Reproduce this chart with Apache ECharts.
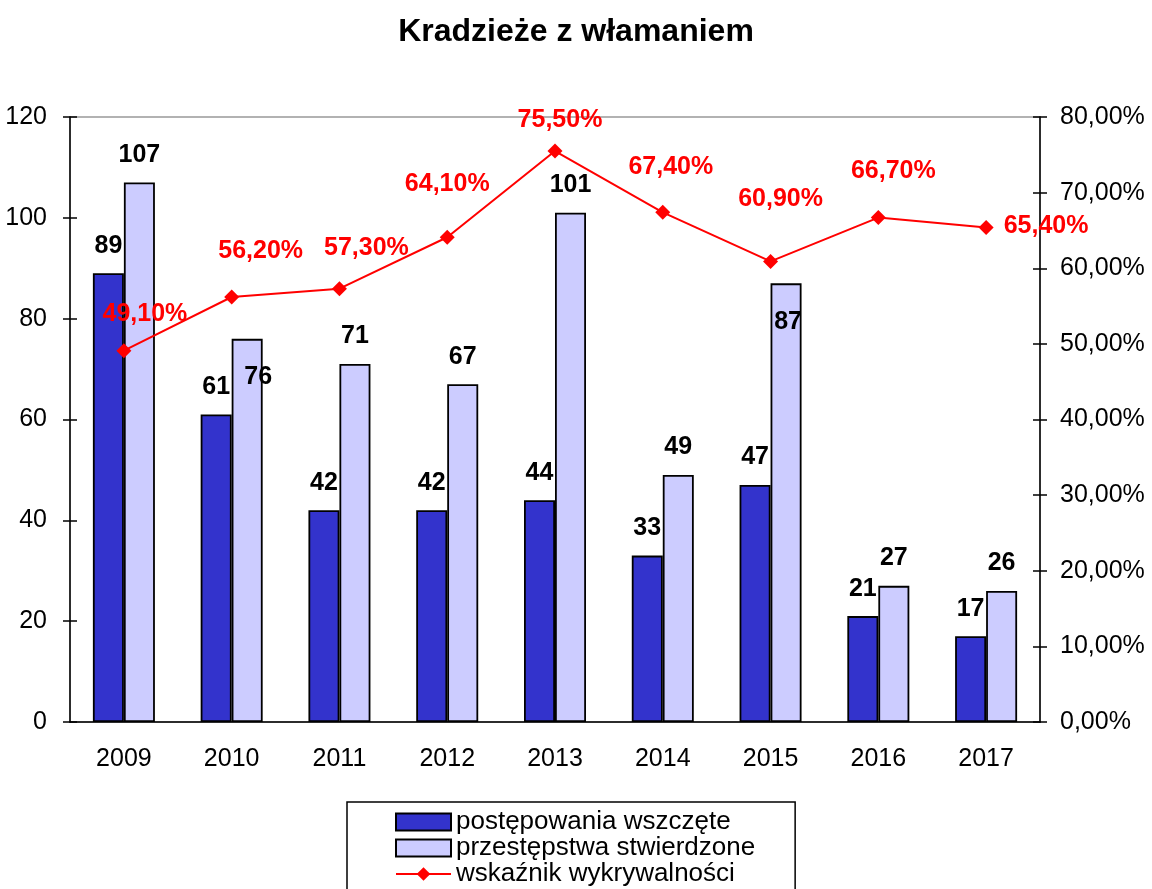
<!DOCTYPE html>
<html>
<head>
<meta charset="utf-8">
<title>Kradzieże z włamaniem</title>
<script src="https://cdn.jsdelivr.net/npm/echarts@6/dist/echarts.min.js"></script>
<style>
  html, body { margin: 0; padding: 0; background: #fff; }
  #main { width: 1152px; height: 889px; }
</style>
</head>
<body>
<div id="main"></div>
<script>
// dane z wykresu
var years = ['2009', '2010', '2011', '2012', '2013', '2014', '2015', '2016', '2017'];
var wszczete = [89, 61, 42, 42, 44, 33, 47, 21, 17];
var stwierdzone = [107, 76, 71, 67, 101, 49, 87, 27, 26];
var wskaznik = [49.1, 56.2, 57.3, 64.1, 75.5, 67.4, 60.9, 66.7, 65.4];

// przesuniecia etykiet (jak w Excelu)
var lineLabelOffsets = [[21, -37], [29, -46], [27, -41], [0, -53], [5, -31], [8, -45], [10, -62], [15, -46], [60, -1]];
var barLabelInside = { 1: [11, 11], 6: [2, 11] };

var FONT = 'Liberation Sans, Arial, sans-serif';

function pct(v) {
    return v.toFixed(2).replace('.', ',') + '%';
}

var chart = echarts.init(document.getElementById('main'));

var stwData = stwierdzone.map(function (v, i) {
    var item = { value: v };
    if (barLabelInside[i]) {
        item.label = { position: 'insideTop', offset: barLabelInside[i] };
    }
    return item;
});

var lineData = wskaznik.map(function (v, i) {
    return { value: v, label: { offset: lineLabelOffsets[i] } };
});

var tickStyle = { color: '#000', width: 1.5 };

chart.setOption({
    animation: false,
    backgroundColor: '#fff',
    title: {
        text: 'Kradzieże z włamaniem',
        left: 'center',
        top: 11,
        textStyle: { fontFamily: FONT, fontSize: 32, fontWeight: 'bold', color: '#000' }
    },
    grid: {
        left: 70, right: 112, top: 117, bottom: 167,
        show: true, borderColor: '#999', borderWidth: 1.5, backgroundColor: 'transparent'
    },
    legend: {
        orient: 'vertical',
        left: 347,
        top: 802,
        height: 120,
        padding: [7, 40, 20, 48],
        itemGap: 0,
        itemWidth: 55,
        itemHeight: 17,
        borderColor: '#000',
        borderWidth: 1.5,
        textStyle: { fontFamily: FONT, fontSize: 26, color: '#000', lineHeight: 26 },
        data: [
            { name: 'postępowania wszczęte', icon: 'rect' },
            { name: 'przestępstwa stwierdzone', icon: 'rect' },
            { name: 'wskaźnik wykrywalności' }
        ]
    },
    xAxis: [{
        type: 'category',
        data: years,
        position: 'bottom',
        axisLine: { lineStyle: tickStyle },
        axisTick: { length: 7, lineStyle: tickStyle },
        axisLabel: { fontFamily: FONT, fontSize: 25, color: '#000', margin: 25 },
        splitLine: { show: false }
    }, {
        type: 'category',
        data: years,
        position: 'bottom',
        axisLine: { show: false },
        axisTick: { inside: true, length: 7, lineStyle: tickStyle },
        axisLabel: { show: false },
        splitLine: { show: false }
    }],
    yAxis: [{
        type: 'value',
        min: 0, max: 120, interval: 20,
        position: 'left',
        axisLine: { show: true, lineStyle: tickStyle },
        axisTick: { show: true, length: 7, lineStyle: tickStyle },
        axisLabel: { fontFamily: FONT, fontSize: 25, color: '#000', margin: 23 },
        splitLine: { show: false }
    }, {
        type: 'value',
        min: 0, max: 80, interval: 10,
        position: 'right',
        axisLine: { show: true, lineStyle: tickStyle },
        axisTick: { show: true, length: 7, lineStyle: tickStyle },
        axisLabel: { fontFamily: FONT, fontSize: 25, color: '#000', margin: 20, formatter: pct },
        splitLine: { show: false }
    }, {
        type: 'value',
        min: 0, max: 120, interval: 20,
        position: 'left',
        axisLine: { show: false },
        axisTick: { show: true, inside: true, length: 7, lineStyle: tickStyle },
        axisLabel: { show: false },
        splitLine: { show: false }
    }, {
        type: 'value',
        min: 0, max: 80, interval: 10,
        position: 'right',
        axisLine: { show: false },
        axisTick: { show: true, inside: true, length: 7, lineStyle: tickStyle },
        axisLabel: { show: false },
        splitLine: { show: false }
    }],
    series: [{
        name: 'postępowania wszczęte',
        type: 'bar',
        data: wszczete,
        barWidth: 31,
        barGap: '0%',
        itemStyle: { color: '#3333CC', borderColor: '#000', borderWidth: 1.8 },
        label: {
            show: true, position: 'top', distance: 15,
            fontFamily: FONT, fontSize: 25, fontWeight: 'bold', color: '#000'
        }
    }, {
        name: 'przestępstwa stwierdzone',
        type: 'bar',
        data: stwData,
        barWidth: 31,
        barGap: '0%',
        itemStyle: { color: '#CCCCFF', borderColor: '#000', borderWidth: 1.8 },
        label: {
            show: true, position: 'top', distance: 15,
            fontFamily: FONT, fontSize: 25, fontWeight: 'bold', color: '#000'
        }
    }, {
        name: 'wskaźnik wykrywalności',
        type: 'line',
        yAxisIndex: 1,
        data: lineData,
        symbol: 'diamond',
        symbolSize: 15,
        z: 5,
        lineStyle: { color: '#FF0000', width: 2 },
        itemStyle: { color: '#FF0000' },
        label: {
            show: true, position: 'inside',
            fontFamily: FONT, fontSize: 25, fontWeight: 'bold', color: '#FF0000',
            formatter: function (p) { return pct(p.value); }
        }
    }]
});
</script>
</body>
</html>
